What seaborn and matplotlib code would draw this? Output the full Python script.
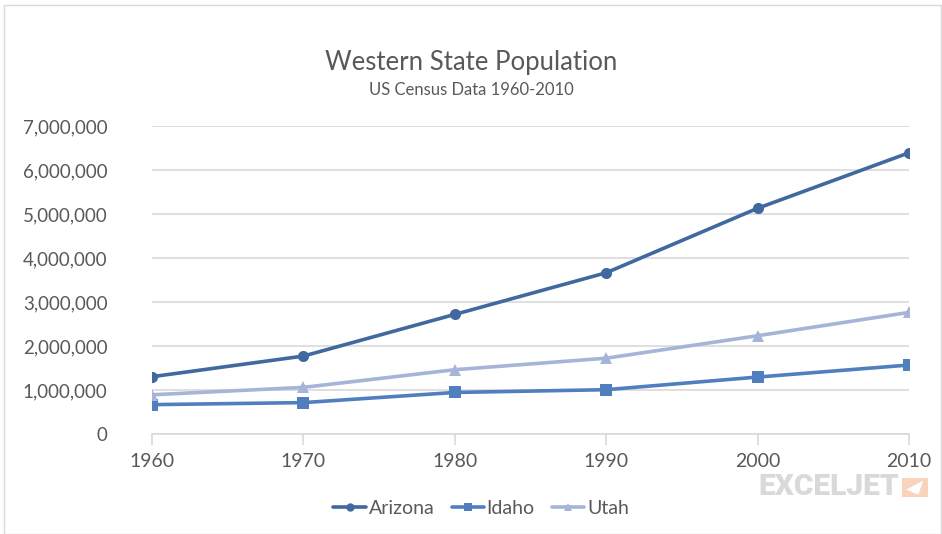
import pandas as pd
import matplotlib.pyplot as plt
import matplotlib.ticker as mticker
from matplotlib.patches import Rectangle, Polygon
import seaborn as sns

# datos (censo EE.UU.)
years = [1960, 1970, 1980, 1990, 2000, 2010]
arizona = [1302161, 1770900, 2718215, 3665228, 5130632, 6392017]
idaho = [667191, 713008, 943935, 1006749, 1293953, 1567582]
utah = [890627, 1059273, 1461037, 1722850, 2233169, 2763885]
states = ['Arizona', 'Idaho', 'Utah']

COLOR_TEXT = '#595959'
COLOR_GRID = '#d9d9d9'
PALETA = {'Arizona': '#41689F', 'Idaho': '#4F7FBF', 'Utah': '#A6B5D7'}
MARCADORES = {'Arizona': 'o', 'Idaho': 's', 'Utah': '^'}

sns.set_theme(style="white")
plt.rcParams['font.family'] = ['Lato', 'DejaVu Sans']
plt.rcParams['text.color'] = COLOR_TEXT

df = pd.DataFrame({'Year': years, 'Arizona': arizona, 'Idaho': idaho, 'Utah': utah})
df = df.melt(id_vars='Year', value_vars=states, var_name='State', value_name='Population')

fig = plt.figure(figsize=(9.42, 5.34), dpi=100)
ax = fig.add_axes([0.1614, 0.1873, 0.8036, 0.5767])

sns.lineplot(data=df, x='Year', y='Population', hue='State', style='State',
             hue_order=states, palette=PALETA, markers=MARCADORES, dashes=False,
             linewidth=2.6, markersize=8, markeredgewidth=0, ax=ax)

ax.set_xlim(1960, 2010)
ax.set_ylim(0, 7000000)
ax.set_xticks(years)
ax.set_yticks(range(0, 7000001, 1000000))
ax.yaxis.set_major_formatter(mticker.FuncFormatter(lambda v, p: f'{int(v):,}'))
ax.grid(axis='y', color=COLOR_GRID, linewidth=1.2)
ax.set_axisbelow(True)
for s in ['top', 'right', 'left']:
    ax.spines[s].set_visible(False)
ax.spines['bottom'].set_color(COLOR_GRID)
ax.spines['bottom'].set_linewidth(1.2)
ax.tick_params(axis='x', bottom=True, length=8, width=1.2, color=COLOR_GRID,
               labelsize=14, labelcolor=COLOR_TEXT, pad=6)
ax.tick_params(axis='y', left=False, labelsize=13.5, labelcolor=COLOR_TEXT, pad=26)
ax.set_xlabel('')
ax.set_ylabel('')

# titulo y subtitulo
fig.text(0.5, 0.883, 'Western State Population', ha='center', va='center',
         fontsize=18.5, color=COLOR_TEXT)
fig.text(0.5, 0.831, 'US Census Data 1960-2010', ha='center', va='center',
         fontsize=12, color=COLOR_TEXT)

# leyenda inferior
handles, labels = ax.get_legend_handles_labels()
for h in handles:
    h.set_markersize(6)
ax.legend(handles, labels, loc='center', bbox_to_anchor=(0.511, 0.048),
          bbox_transform=fig.transFigure, ncol=3, frameon=False,
          fontsize=14, handlelength=1.65, columnspacing=0.9, handletextpad=0.15)

# marca de agua
fig.text(0.805, 0.088, 'EXCELJET', ha='left', va='center', fontsize=21.5,
         fontfamily='Roboto', fontweight='black', color='#d9d9d9')
fig.patches.append(Rectangle((0.958, 0.069), 0.027, 0.036, transform=fig.transFigure,
                             facecolor='#f8d4bd', edgecolor='none'))
fig.patches.append(Polygon([(0.962, 0.083), (0.980, 0.100), (0.975, 0.074)],
                           closed=True, transform=fig.transFigure,
                           facecolor='white', edgecolor='none'))

# marco
fig.patches.append(Rectangle((0.004, 0.0), 0.995, 0.99, transform=fig.transFigure,
                             facecolor='none', edgecolor='#d9d9d9', linewidth=1))

fig.savefig('out.png', dpi=100)
